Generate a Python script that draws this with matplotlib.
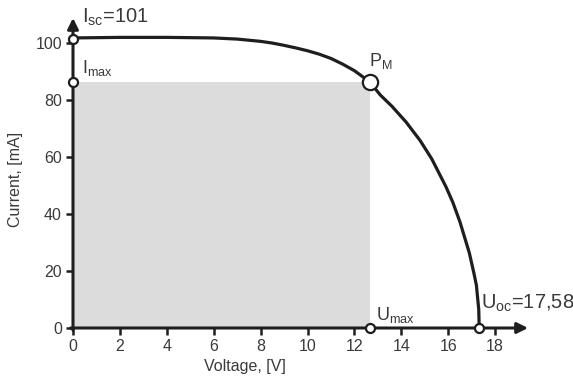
import matplotlib
matplotlib.use("Agg")
import matplotlib.pyplot as plt
from matplotlib.patches import Rectangle

plt.rcParams["font.family"] = ["Liberation Sans", "DejaVu Sans"]
plt.rcParams["mathtext.fontset"] = "custom"
plt.rcParams["mathtext.rm"] = "Liberation Sans"
plt.rcParams["mathtext.it"] = "Liberation Sans"

# I-V curve
voltage = [0, 2, 4, 6, 7, 7.5, 8, 8.5, 9, 9.5, 10, 10.5, 11, 11.5, 12, 12.65,
           13.1, 13.6, 14.2, 14.8, 15.3, 15.9, 16.2, 16.5, 16.9, 17.1, 17.2, 17.3, 17.32]
current = [101.8, 102, 102, 101.8, 101.4, 101, 100.6, 100, 99.2, 98.3, 97.3, 96.1,
           94.6, 92.6, 90.3, 86.4, 81.8, 77.8, 72.3, 65.8, 59.3, 49.6, 44, 37.2,
           26.3, 19, 15, 6.5, 0]

i_sc = 101.5
u_max, i_max = 12.65, 86.4
u_oc = 17.32

xticks = [0, 2, 4, 6, 8, 10, 12, 14, 16, 18]
yticks = [0, 20, 40, 60, 80, 100]

INK = "#1e1e1e"
TXT = "#3a3a3a"

fig = plt.figure(figsize=(5.73, 3.82), dpi=100)
ax = fig.add_axes([73 / 573, 1 - 328 / 382, (528 - 73) / 573, (328 - 18) / 382])
ax.set_xlim(0, 19.4)
ax.set_ylim(0, 108.8)
for s in ax.spines.values():
    s.set_visible(False)

# shaded max-power rectangle
ax.add_patch(Rectangle((0, 0), u_max, i_max, facecolor="#dcdcdc", edgecolor="none", zorder=1))

# axes with arrows
arrow = dict(arrowstyle="-|>", color=INK, lw=2.2, mutation_scale=16, shrinkA=0, shrinkB=0)
ax.annotate("", xy=(19.4, 0), xytext=(-0.1, 0), arrowprops=arrow, annotation_clip=False, zorder=3)
ax.annotate("", xy=(0, 108.8), xytext=(0, -0.8), arrowprops=arrow, annotation_clip=False, zorder=3)

ax.plot(voltage, current, color=INK, lw=2.3, zorder=4, clip_on=False, solid_capstyle="butt")

mk = dict(marker="o", mfc="white", mec=INK, mew=1.6, ls="none", zorder=5, clip_on=False)
ax.plot([0, 0, u_max, u_oc], [i_sc, i_max, 0, 0], ms=6.5, **mk)
ax.plot([u_max], [i_max], ms=11, **mk)

ax.set_xticks(xticks)
ax.set_yticks(yticks)
ax.tick_params(direction="out", length=5, width=1.8, color=INK, labelcolor=TXT,
               labelsize=11.5, pad=3)

fig.text(16 / 573, 1 - 179 / 382, "Current, [mA]", rotation=90, ha="center", va="center",
         fontsize=11.5, color=TXT)
fig.text(245 / 573, 1 - 366 / 382, "Voltage, [V]", ha="center", va="center",
         fontsize=11.5, color=TXT)

ax.text(0.38, 109, r"I$_\mathregular{sc}$=101", fontsize=14.5, color=TXT, va="center", ha="left")
ax.text(0.38, 91.2, r"I$_\mathregular{max}$", fontsize=13, color=TXT, va="center", ha="left")
ax.text(12.6, 93.7, r"P$_\mathregular{M}$", fontsize=13, color=TXT, va="center", ha="left")
ax.text(12.94, 4.6, r"U$_\mathregular{max}$", fontsize=13, color=TXT, va="center", ha="left")
ax.text(17.4, 8.8, r"U$_\mathregular{oc}$=17,58", fontsize=14.5, color=TXT, va="center", ha="left")

fig.savefig("out.png", dpi=100, facecolor="white")
